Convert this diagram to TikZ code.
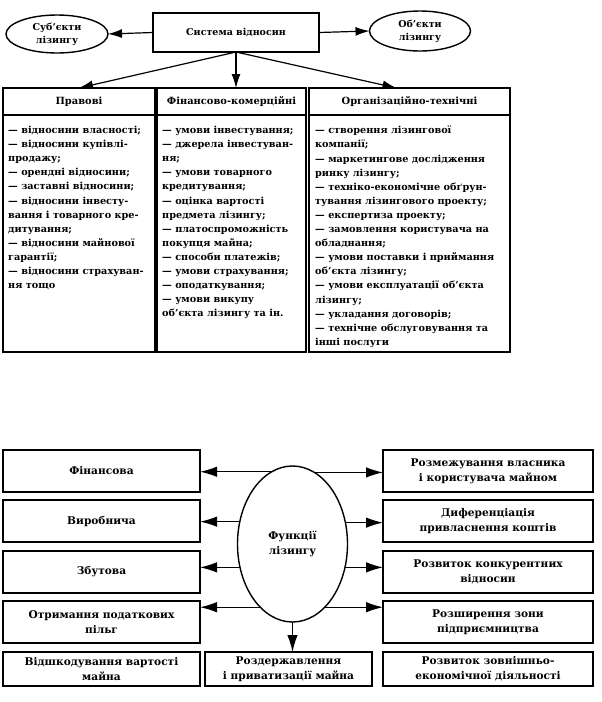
\documentclass[tikz,border=0pt]{standalone}
\usepackage{fontspec}
\setmainfont{DejaVu Serif}
\usetikzlibrary{arrows.meta,calc,shapes.geometric}
\begin{document}
\begin{tikzpicture}[x=1pt,y=-1pt,
  lbox/.style={draw, line width=1.4pt, rectangle, inner sep=2pt, outer sep=0pt, anchor=north west, align=center},
  oval/.style={draw, line width=1.4pt, ellipse, inner sep=0pt, outer sep=0pt, align=center},
  arr/.style={line width=1.2pt, -{Latex[length=14pt,width=9pt]}},
  barr/.style={line width=1.2pt, -{Latex[length=17pt,width=10.5pt]}},
  topfont/.style={font=\bfseries\fontsize{9.5}{13}\selectfont},
  headfont/.style={font=\bfseries\fontsize{9.9}{12}\selectfont},
  coltext/.style={anchor=north west, align=left, inner sep=0pt, font=\bfseries\fontsize{9.7}{14.1}\selectfont},
  botfont/.style={font=\bfseries\fontsize{10.6}{15}\selectfont},
]
\useasboundingbox (0,0) rectangle (602,702);

% ---- top part
\node[lbox, topfont, minimum width=166pt, minimum height=39pt] (sys) at (153,13) {Система відносин};
\node[oval, topfont, minimum width=102pt, minimum height=38pt] (subj) at (57,34) {Суб’єкти\\лізингу};
\node[oval, topfont, minimum width=101pt, minimum height=40pt] (obj) at (420,31) {Об’єкти\\лізингу};
\draw[arr] (sys.west) -- (subj.east);
\draw[arr] (sys.east) -- (obj.west);

% columns
\node[lbox, headfont, minimum width=152pt, minimum height=27pt] (h1) at (3,88) {Правові};
\node[lbox, minimum width=152pt, minimum height=264pt] (b1) at (3,88) {};
\node[lbox, headfont, minimum width=149pt, minimum height=27pt] (h2) at (157,88) {Фінансово-комерційні};
\node[lbox, minimum width=149pt, minimum height=264pt] (b2) at (157,88) {};
\node[lbox, headfont, minimum width=201pt, minimum height=27pt] (h3) at (309,88) {Організаційно-технічні};
\node[lbox, minimum width=201pt, minimum height=264pt] (b3) at (309,88) {};

\draw[arr] (sys.south) -- (h1.north);
\draw[arr] (sys.south) -- (sys.south |- h2.north);
\draw[arr] (sys.south) -- ($(h3.north)+(-13,0)$);

\node[coltext] (t1) at ($(h1.south west)+(5,11)$) {%
— відносини власності;\\
— відносини купівлі-\\
продажу;\\
— орендні відносини;\\
— заставні відносини;\\
— відносини інвесту-\\
вання і товарного кре-\\
дитування;\\
— відносини майнової\\
гарантії;\\
— відносини страхуван-\\
ня тощо};

\node[coltext] (t2) at ($(h2.south west)+(5,11)$) {%
— умови інвестування;\\
— джерела інвестуван-\\
ня;\\
— умови товарного\\
кредитування;\\
— оцінка вартості\\
предмета лізингу;\\
— платоспроможність\\
покупця майна;\\
— способи платежів;\\
— умови страхування;\\
— оподаткування;\\
— умови викупу\\
об’єкта лізингу та ін.};

\node[coltext] (t3) at ($(h3.south west)+(6,11)$) {%
— створення лізингової\\
компанії;\\
— маркетингове дослідження\\
ринку лізингу;\\
— техніко-економічне обґрун-\\
тування лізингового проекту;\\
— експертиза проекту;\\
— замовлення користувача на\\
обладнання;\\
— умови поставки і приймання\\
об’єкта лізингу;\\
— умови експлуатації об’єкта\\
лізингу;\\
— укладання договорів;\\
— технічне обслуговування та\\
інші послуги};

% ---- bottom part
\node[lbox, botfont, minimum width=197pt, minimum height=42pt] (l1) at (3,450) {Фінансова};
\node[lbox, botfont, minimum width=197pt, minimum height=42pt] (l2) at (3,500) {Виробнича};
\node[lbox, botfont, minimum width=197pt, minimum height=42pt] (l3) at (3,551) {Збутова};
\node[lbox, botfont, minimum width=197pt, minimum height=42pt] (l4) at (3,601) {Отримання податкових\\пільг};
\node[lbox, botfont, minimum width=197pt, minimum height=34pt] (l5) at (3,652) {Відшкодування вартості\\майна};
\node[lbox, botfont, minimum width=167pt, minimum height=34pt] (mid) at (205,652) {Роздержавлення\\і приватизації майна};

\node[lbox, botfont, minimum width=210pt, minimum height=42pt] (r1) at (383,450) {Розмежування власника\\і користувача майном};
\node[lbox, botfont, minimum width=210pt, minimum height=42pt] (r2) at (383,500) {Диференціація\\привласнення коштів};
\node[lbox, botfont, minimum width=210pt, minimum height=42pt] (r3) at (383,551) {Розвиток конкурентних\\відносин};
\node[lbox, botfont, minimum width=210pt, minimum height=42pt] (r4) at (383,601) {Розширення зони\\підприємництва};
\node[lbox, botfont, minimum width=210pt, minimum height=34pt] (r5) at (383,652) {Розвиток зовнішньо-\\економічної діяльності};

\node[oval, botfont, minimum width=110pt, minimum height=156pt] (fn) at (292.5,544) {Функції\\лізингу};

\draw[barr] (fn.106.4) -- (l1.east |- fn.106.4);
\draw[barr] (fn.157.4) -- (l2.east |- fn.157.4);
\draw[barr] (fn.204.6) -- (l3.east |- fn.204.6);
\draw[barr] (fn.243.8) -- (l4.east |- fn.243.8);
\draw[barr] (fn.73.6) -- (r1.west |- fn.73.6);
\draw[barr] (fn.22.6) -- (r2.west |- fn.22.6);
\draw[barr] (fn.-24.6) -- (r3.west |- fn.-24.6);
\draw[barr] (fn.-63.8) -- (r4.west |- fn.-63.8);
\draw[barr] (fn.south) -- (fn.south |- mid.north);
\end{tikzpicture}
\end{document}
